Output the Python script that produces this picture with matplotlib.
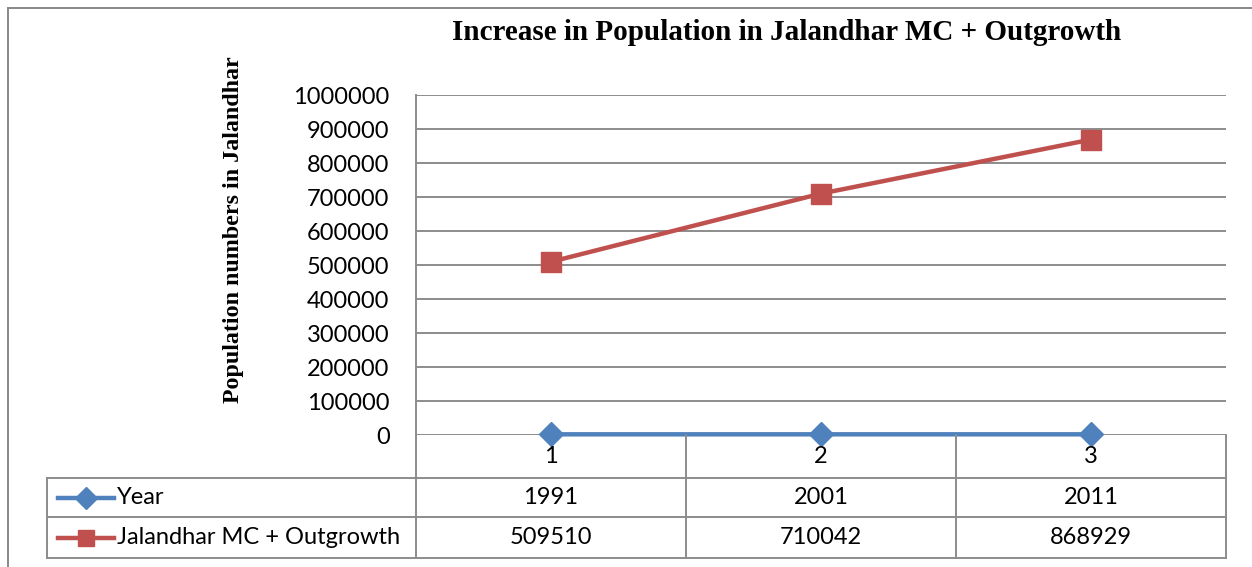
import matplotlib
matplotlib.use("Agg")
import matplotlib.pyplot as plt
from matplotlib.lines import Line2D
import matplotlib.transforms as mtransforms

categories = [1, 2, 3]
years = [1991, 2001, 2011]
population = [509510, 710042, 868929]
series_names = ["Year", "Jalandhar MC + Outgrowth"]
yticks = list(range(0, 1000001, 100000))

W, H = 1252, 567
BLUE = "#4F81BD"
RED = "#C0504D"
GRID = "#8C8C8C"
FONT = "Lato"
FS = 17

fig = plt.figure(figsize=(W / 100, H / 100), dpi=100)

def fx(px):
    return px / W

def fy(py):
    return 1 - py / H

ax = fig.add_axes([fx(416), fy(435), fx(1226) - fx(416), fy(95) - fy(435)])
ax.set_xlim(0.5, 3.5)
ax.set_ylim(0, 1000000)

ax.plot(categories, years, color=BLUE, lw=3.2, marker="D", ms=12, zorder=3, clip_on=False)
ax.plot(categories, population, color=RED, lw=3.2, marker="s", ms=14, zorder=3, clip_on=False)

ax.set_yticks(yticks)
ax.set_yticklabels([str(v) for v in yticks], fontfamily=FONT, fontsize=FS)
ax.tick_params(axis="y", length=0, pad=19)
ax.set_xticks([])
ax.yaxis.grid(True, color=GRID, lw=1.4)
ax.set_axisbelow(True)
for s in ["top", "right", "bottom"]:
    ax.spines[s].set_visible(False)
ax.spines["left"].set_color(GRID)
ax.spines["left"].set_linewidth(1.4)

# data table under the axis
trans = mtransforms.blended_transform_factory(ax.transData, fig.transFigure)
ftr = fig.transFigure
lc = dict(color=GRID, lw=1.4)

row_y = [fy(435), fy(478), fy(517), fy(558)]
x_left = fx(47)
edges = [0.5, 1.5, 2.5, 3.5]

for c in categories:
    ax.text(c, (row_y[0] + row_y[1]) / 2, str(c), transform=trans, ha="center", va="center",
            fontfamily=FONT, fontsize=FS)
for x in edges:
    fig.add_artist(Line2D([x, x], [row_y[0], row_y[3]], transform=trans, **lc))
for y in row_y[1:]:
    fig.add_artist(Line2D([x_left, fx(416)], [y, y], transform=ftr, **lc))
    fig.add_artist(Line2D([0.5, 3.5], [y, y], transform=trans, **lc))
fig.add_artist(Line2D([x_left, x_left], [row_y[1], row_y[3]], transform=ftr, **lc))

rows = [years, population]
styles = [(BLUE, "D", 11), (RED, "s", 12)]
for i, (name, vals) in enumerate(zip(series_names, rows)):
    yc = (row_y[i + 1] + row_y[i + 2]) / 2
    color, mk, ms = styles[i]
    fig.add_artist(Line2D([fx(58), fx(114)], [yc, yc], transform=ftr, color=color, lw=3.2))
    fig.add_artist(Line2D([fx(86)], [yc], transform=ftr, color=color, marker=mk, ms=ms, lw=0))
    fig.text(fx(117), yc, name, ha="left", va="center", fontfamily=FONT, fontsize=FS)
    for c, v in zip(categories, vals):
        ax.text(c, yc, str(v), transform=trans, ha="center", va="center",
                fontfamily=FONT, fontsize=FS)

fig.text(fx(787), fy(32), "Increase in Population in Jalandhar MC + Outgrowth",
         ha="center", va="center", fontfamily="Liberation Serif", fontweight="bold", fontsize=21)
fig.text(fx(233), fy(230), "Population numbers in Jalandhar", rotation=90,
         ha="center", va="center", fontfamily="Liberation Serif", fontweight="bold", fontsize=17.3)

# outer chart border
fig.add_artist(Line2D([fx(8), fx(8)], [fy(8), 0], transform=ftr, color="#888888", lw=1.4))
fig.add_artist(Line2D([fx(8), 1], [fy(8), fy(8)], transform=ftr, color="#888888", lw=1.4))

fig.savefig("out.png", dpi=100)
